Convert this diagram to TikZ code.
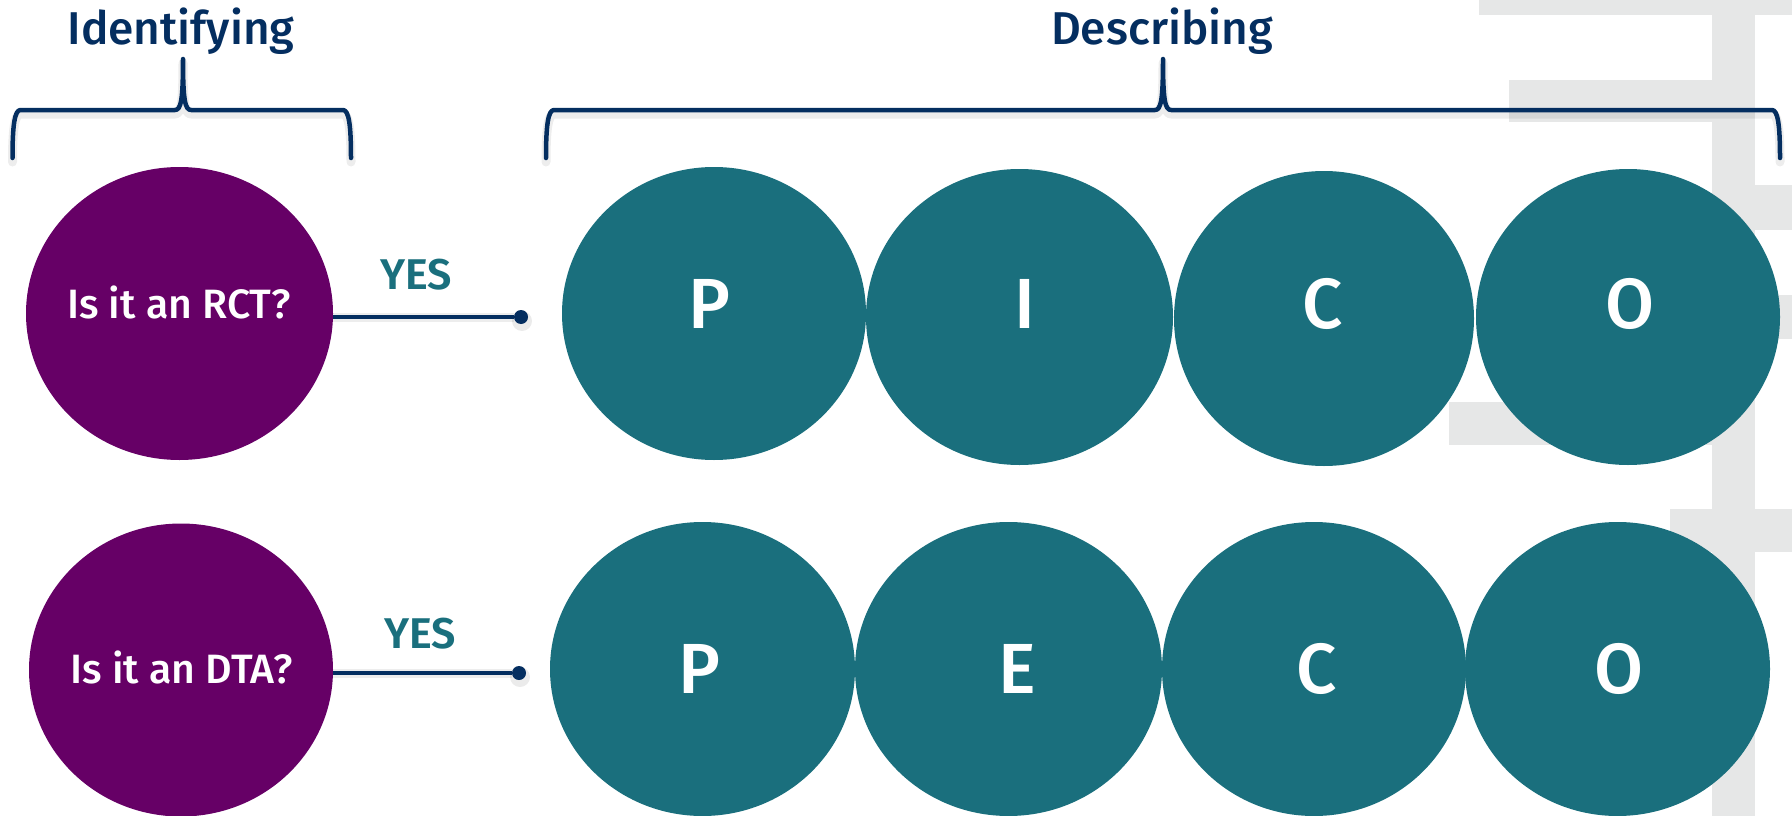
\documentclass[tikz,border=0pt]{standalone}
\usepackage{fontspec}
\setmainfont{Fira Sans}
\newfontfamily\semib{Fira Sans SemiBold}
\newfontfamily\medf{Fira Sans Medium}
\usetikzlibrary{shapes.geometric}
\definecolor{purp}{HTML}{660066}
\definecolor{tealc}{HTML}{1A6F7D}
\definecolor{navy}{HTML}{042E60}
\definecolor{wgray}{HTML}{E6E7E7}
\newcommand\bracepath[3]{(#1,158) .. controls (#1,126) and (#1+2,110) .. (#1+8,110) -- (#2-8,110) .. controls (#2-2,110) and (#2,100) .. (#2,59) .. controls (#2,100) and (#2+2,110) .. (#2+8,110) -- (#3-8,110) .. controls (#3-2,110) and (#3,126) .. (#3,158)}
\begin{document}
\begin{tikzpicture}[x=1pt,y=-1pt,
  blob/.style={ellipse, inner sep=0pt, outer sep=0pt},
  qblob/.style={blob, fill=purp},
  tblob/.style={blob, fill=tealc},
  qtext/.style={anchor=base, text=white, inner sep=0pt, font=\medf\fontsize{41}{50}\selectfont},
  letter/.style={anchor=base, text=white, inner sep=0pt, font=\medf\fontsize{71}{80}\selectfont},
  yestext/.style={anchor=base, text=tealc, inner sep=0pt, font=\semib\fontsize{43}{50}\selectfont},
  title/.style={anchor=base, text=navy, inner sep=0pt, font=\medf\fontsize{46}{54}\selectfont},
  bracestyle/.style={draw=navy, line width=4.5pt, line cap=round, line join=round},
  shadowline/.style={draw=black, opacity=0.07, line width=9pt, line cap=round, line join=round},
  conn/.style={draw=navy, line width=4.5pt},
  dotn/.style={circle, fill=navy, inner sep=0pt, minimum size=14pt},
  dotshadow/.style={circle, fill=black, opacity=0.08, inner sep=0pt, minimum size=20pt}
]
\useasboundingbox (0,0) rectangle (1792,816);
% watermark shapes
\fill[wgray] (1479,0) rectangle (1792,15);
\fill[wgray] (1712,15) rectangle (1755,816);
\fill[wgray] (1509,80) rectangle (1712,122);
\fill[wgray] (1755,185) rectangle (1792,230);
\fill[wgray] (1755,295) rectangle (1792,339);
\fill[wgray] (1449,402) rectangle (1712,445);
\fill[wgray] (1670,509) rectangle (1792,552);

% titles
\node[title] (tid) at (181,45) {Identifying};
\node[title] (tde) at (1162,45) {Describing};

% braces
\path[shadowline, yshift=-4pt] \bracepath{12.5}{183}{351};
\path[bracestyle] \bracepath{12.5}{183}{351};
\path[shadowline, yshift=-4pt] \bracepath{546}{1163}{1780};
\path[bracestyle] \bracepath{546}{1163}{1780};

% question ellipses
\node[qblob, minimum width=307pt, minimum height=293pt] (q1) at (179.5,313.5) {};
\node[qblob, minimum width=304pt, minimum height=293pt] (q2) at (181,670) {};
\node[qtext] (q1t) at (179,318) {Is it an RCT?};
\node[qtext] (q2t) at (181.5,683) {Is it an DTA?};

% teal row 1
\node[tblob, minimum width=304pt, minimum height=293pt] (p1) at (714,313.5) {};
\node[tblob, minimum width=307pt, minimum height=296pt] (i1) at (1019.5,317) {};
\node[tblob, minimum width=300pt, minimum height=295pt] (c1) at (1324,318.5) {};
\node[tblob, minimum width=304pt, minimum height=296pt] (o1) at (1628,317) {};
\node[letter] (p1t) at (709,328) {P};
\node[letter] (i1t) at (1024.5,328) {I};
\node[letter] (c1t) at (1323,328) {C};
\node[letter] (o1t) at (1630,328) {O};

% teal row 2
\node[tblob, minimum width=305pt, minimum height=294pt] (p2) at (702.5,669) {};
\node[tblob, minimum width=307pt, minimum height=294pt] (e2) at (1008.5,669) {};
\node[tblob, minimum width=304pt, minimum height=294pt] (c2) at (1314,669) {};
\node[tblob, minimum width=305pt, minimum height=294pt] (o2) at (1617.5,669) {};
\node[letter] (p2t) at (699,693) {P};
\node[letter] (e2t) at (1017,693) {E};
\node[letter] (c2t) at (1317,693) {C};
\node[letter] (o2t) at (1619,693) {O};

% connectors
\node[dotshadow] (d1s) at (522,321) {};
\node[dotshadow] (d2s) at (520,677) {};
\node[dotn] (d1) at (521,317) {};
\node[dotn] (d2) at (519,673) {};
\path[shadowline, line cap=butt, yshift=-4pt] (q1.east |- d1) -- (d1);
\path[shadowline, line cap=butt, yshift=-4pt] (q2.east |- d2) -- (d2);
\path[conn] (q1.east |- d1) -- (d1);
\path[conn] (q2.east |- d2) -- (d2);
\node[yestext] (y1) at (416,289) {YES};
\node[yestext] (y2) at (420,648) {YES};
\end{tikzpicture}
\end{document}
